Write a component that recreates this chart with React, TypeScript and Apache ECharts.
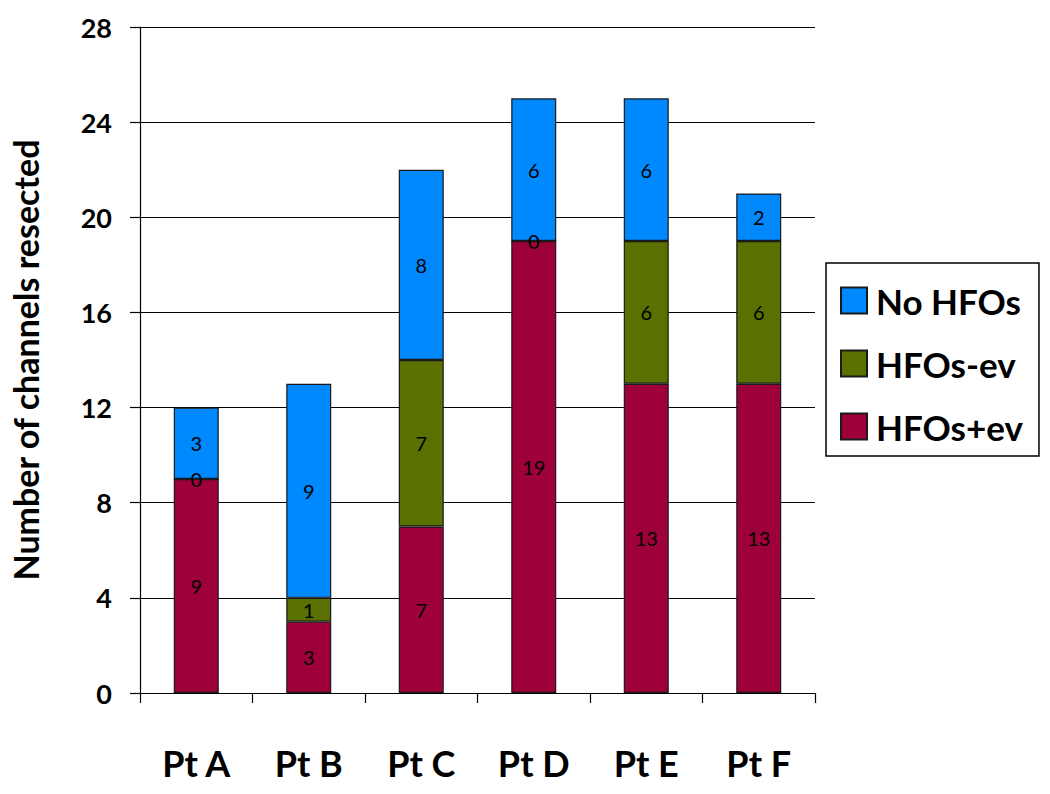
import React, { useEffect, useRef } from "react";
import * as echarts from "echarts";

const categories = ["Pt A", "Pt B", "Pt C", "Pt D", "Pt E", "Pt F"];
const hfosPlusEv = [9, 3, 7, 19, 13, 13];
const hfosMinusEv = [0, 1, 7, 0, 6, 6];
const noHfos = [3, 9, 8, 6, 6, 2];

const FONT = "Lato, 'DejaVu Sans', sans-serif";

export default function App() {
  const ref = useRef<HTMLDivElement>(null);
  useEffect(() => {
    if (!ref.current) return;
    const chart = echarts.init(ref.current, undefined, { renderer: "svg" });
    const label = {
      show: true,
      position: "inside",
      color: "#000",
      fontSize: 20,
      fontFamily: FONT,
    };
    const border = { borderColor: "#1a1a1a", borderWidth: 1.2 };
    chart.setOption({
      animation: false,
      backgroundColor: "#fff",
      textStyle: { fontFamily: FONT },
      grid: { left: 140, right: 235, top: 27, bottom: 101, containLabel: false },
      legend: {
        orient: "vertical",
        left: 826,
        top: 263,
        data: ["No HFOs", "HFOs-ev", "HFOs+ev"],
        borderColor: "#000",
        borderWidth: 1.5,
        padding: [20, 16, 12, 14],
        itemGap: 28,
        itemWidth: 26,
        itemHeight: 26,
        icon: "rect",
        textStyle: { fontSize: 35, fontWeight: "bold", color: "#000", fontFamily: FONT, padding: [0, 0, 0, 4] },
      },
      xAxis: {
        type: "category",
        data: categories,
        axisLine: { show: true, lineStyle: { color: "#000", width: 1.2 } },
        axisTick: { show: true, length: 10, lineStyle: { color: "#000", width: 1.2 } },
        axisLabel: { color: "#000", fontSize: 36, fontWeight: "bold", margin: 52, fontFamily: FONT },
      },
      yAxis: {
        type: "value",
        min: 0,
        max: 28,
        interval: 4,
        name: "Number of channels resected",
        nameLocation: "middle",
        nameGap: 98,
        nameTextStyle: { fontSize: 34, fontWeight: "bold", color: "#000", fontFamily: FONT },
        axisLine: { show: true, lineStyle: { color: "#000", width: 1.2 } },
        axisTick: { show: true, length: 10, lineStyle: { color: "#000", width: 1.2 } },
        axisLabel: { color: "#000", fontSize: 27, fontWeight: "bold", margin: 28, fontFamily: FONT },
        splitLine: { show: true, lineStyle: { color: "#000", width: 1.2 } },
      },
      series: [
        {
          name: "HFOs+ev",
          type: "bar",
          stack: "a",
          barWidth: 45,
          data: hfosPlusEv,
          itemStyle: { color: "#9E003A", ...border },
          label,
        },
        {
          name: "HFOs-ev",
          type: "bar",
          stack: "a",
          barWidth: 45,
          data: hfosMinusEv,
          itemStyle: { color: "#5A7000", ...border },
          label,
        },
        {
          name: "No HFOs",
          type: "bar",
          stack: "a",
          barWidth: 45,
          data: noHfos,
          itemStyle: { color: "#0088FF", ...border },
          label,
        },
      ],
    });
    return () => chart.dispose();
  }, []);
  return <div ref={ref} style={{ width: 1050, height: 794, margin: -8 }} />;
}
